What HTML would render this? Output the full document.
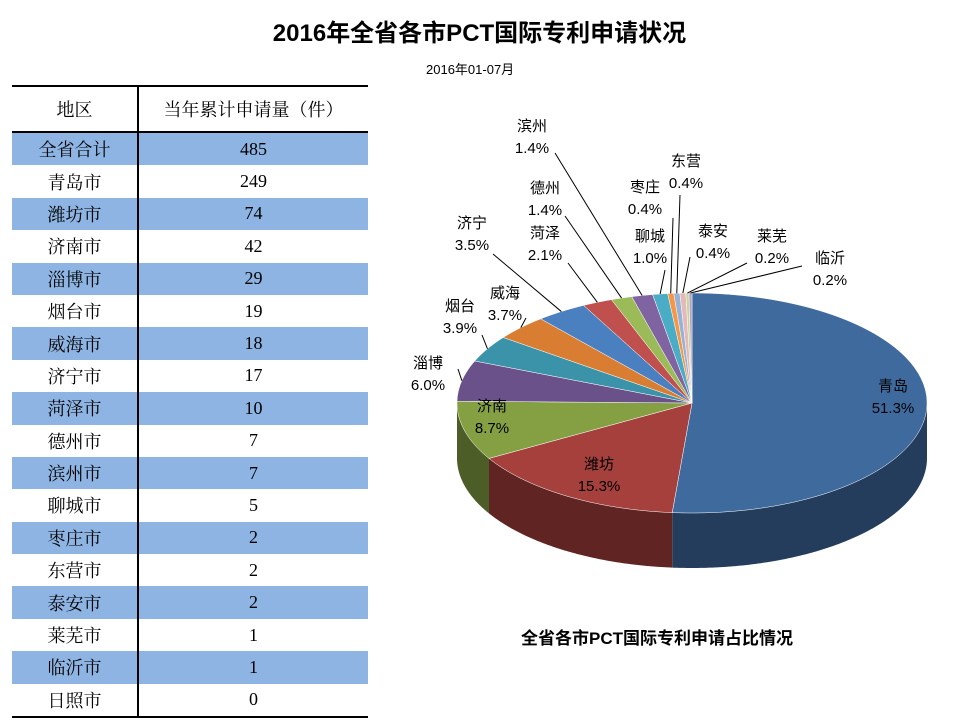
<!DOCTYPE html>
<html><head><meta charset="utf-8"><style>
body{margin:0;width:959px;height:728px;background:#fff;position:relative;overflow:hidden;font-family:"Liberation Sans","Noto Sans CJK SC",sans-serif}
#title{position:absolute;left:0;width:959px;top:13px;text-align:center;font-weight:bold;font-size:24px}
#sub{position:absolute;left:426px;top:59px;font-size:13px}
table{position:absolute;left:12px;top:85px;border-collapse:collapse;width:356px;font-family:"Liberation Serif","Noto Serif CJK SC",serif;font-size:18px}
td{height:32.4px;padding:0;text-align:center;border:0}
td.c1{width:125px;border-right:2px solid #000}
tr.h td{height:44px;border-top:2px solid #000;border-bottom:2px solid #000}
tr.b td{background:#8db4e2}
tr.last td{border-bottom:2px solid #000}
#cap{position:absolute;left:521px;top:624px;font-weight:bold;font-size:17px}
svg{position:absolute;left:0;top:0}
</style></head><body>
<div id="title">2016年全省各市PCT国际专利申请状况</div>
<div id="sub">2016年01-07月</div>
<table><tbody id="tb"></tbody></table>
<svg id="pie" width="959" height="728"></svg>
<div id="cap">全省各市PCT国际专利申请占比情况</div>
<script>
const tableRegions=["全省合计","青岛市","潍坊市","济南市","淄博市","烟台市","威海市","济宁市","菏泽市","德州市","滨州市","聊城市","枣庄市","东营市","泰安市","莱芜市","临沂市","日照市"];
const tableValues=[485,249,74,42,29,19,18,17,10,7,7,5,2,2,2,1,1,0];
const categories=["青岛","潍坊","济南","淄博","烟台","威海","济宁","菏泽","德州","滨州","聊城","枣庄","东营","泰安","莱芜","临沂"];
const values=[249,74,42,29,19,18,17,10,7,7,5,2,2,2,1,1];
const colors=["#3f6a9e","#a6403d","#84a043","#6a5189","#3a93a8","#d97d33","#4a7fc0","#c0504d","#9bbb59","#8064a2","#4bacc6","#f79646","#95b3d7","#e6b9b8","#c3d69b","#b2a1c7"];
const labelLayout={"滨州":[532,131,555,153],"德州":[545,193,565,216],"济宁":[472,228,493,254],"菏泽":[545,238,568,263],"聊城":[650,241,665,270],"枣庄":[645,192,673,218],"东营":[686,166,680,195],"泰安":[713,236,690,257],"莱芜":[772,241,747,263],"临沂":[830,263,802,266],"威海":[505,298,526,318],"烟台":[460,311,482,335],"淄博":[428,368,458,369]};
const inner={"青岛":[893,391],"潍坊":[599,469],"济南":[492,411]};
const tb=document.getElementById('tb');
let hr=document.createElement('tr');hr.className='h';


hr.innerHTML='<td class="c1">地区</td><td>当年累计申请量（件）</td>';tb.appendChild(hr);
tableRegions.forEach((r,i)=>{const tr=document.createElement('tr');
tr.className=(i%2==0?'b':'')+(i==tableRegions.length-1?' last':'');


tr.innerHTML='<td class="c1">'+r+'</td><td>'+tableValues[i]+'</td>';tb.appendChild(tr);});
const NS="http://www.w3.org/2000/svg",svg=document.getElementById('pie');
const cx=692,cy=403,rx=235,ry=110,depth=55;
const total=values.reduce((a,b)=>a+b,0);
function pt(a,dy){return [cx+rx*Math.sin(a),cy-ry*Math.cos(a)+(dy||0)];}
function shade(c,f){const n=parseInt(c.slice(1),16);return 'rgb('+[(n>>16)&255,(n>>8)&255,n&255].map(v=>Math.round(v*f)).join(',')+')';}
function mk(t,attrs){const e=document.createElementNS(NS,t);for(const k in attrs)e.setAttribute(k,attrs[k]);svg.appendChild(e);return e;}
let a0=0;const ang=[];
values.forEach(v=>{const a1=a0+v/total*2*Math.PI;ang.push([a0,a1]);a0=a1;});
ang.forEach(([s,e],i)=>{const lo=Math.max(s,Math.PI/2),hi=Math.min(e,1.5*Math.PI);if(hi<=lo)return;
let d='M'+pt(lo)+' ';for(let t=lo;t<=hi;t+=0.01)d+='L'+pt(t)+' ';d+='L'+pt(hi)+' L'+pt(hi,depth)+' ';
for(let t=hi;t>=lo;t-=0.01)d+='L'+pt(t,depth)+' ';d+='L'+pt(lo,depth)+'Z';
const p=mk('path',{d:d,fill:shade(colors[i],0.58)});

});
ang.forEach(([s,e],i)=>{let d='M'+cx+','+cy+' L'+pt(s)+' ';for(let t=s;t<e;t+=0.01)d+='L'+pt(t)+' ';d+='L'+pt(e)+'Z';
const p=mk('path',{d:d,fill:colors[i],stroke:'#fff','stroke-width':0.5});

});
ang.forEach(([s,e],i)=>{const name=categories[i],pct=(values[i]/total*100).toFixed(1)+'%';let x,y;
if(inner[name]){[x,y]=inner[name];}else{const L=labelLayout[name];x=L[0];y=L[1];
const m=pt((s+e)/2);const ln=mk('polyline',{points:L[2]+','+L[3]+' '+m[0]+','+m[1],fill:'none',stroke:'#000','stroke-width':1});

}
const t=mk('text',{x:x,y:y,'text-anchor':'middle','font-size':15,'font-family':'"Liberation Sans","Noto Sans CJK SC",sans-serif'});


t.innerHTML='<tspan x="'+x+'" dy="0">'+name+'</tspan><tspan x="'+x+'" dy="22">'+pct+'</tspan>';});
</script>
</body></html>
